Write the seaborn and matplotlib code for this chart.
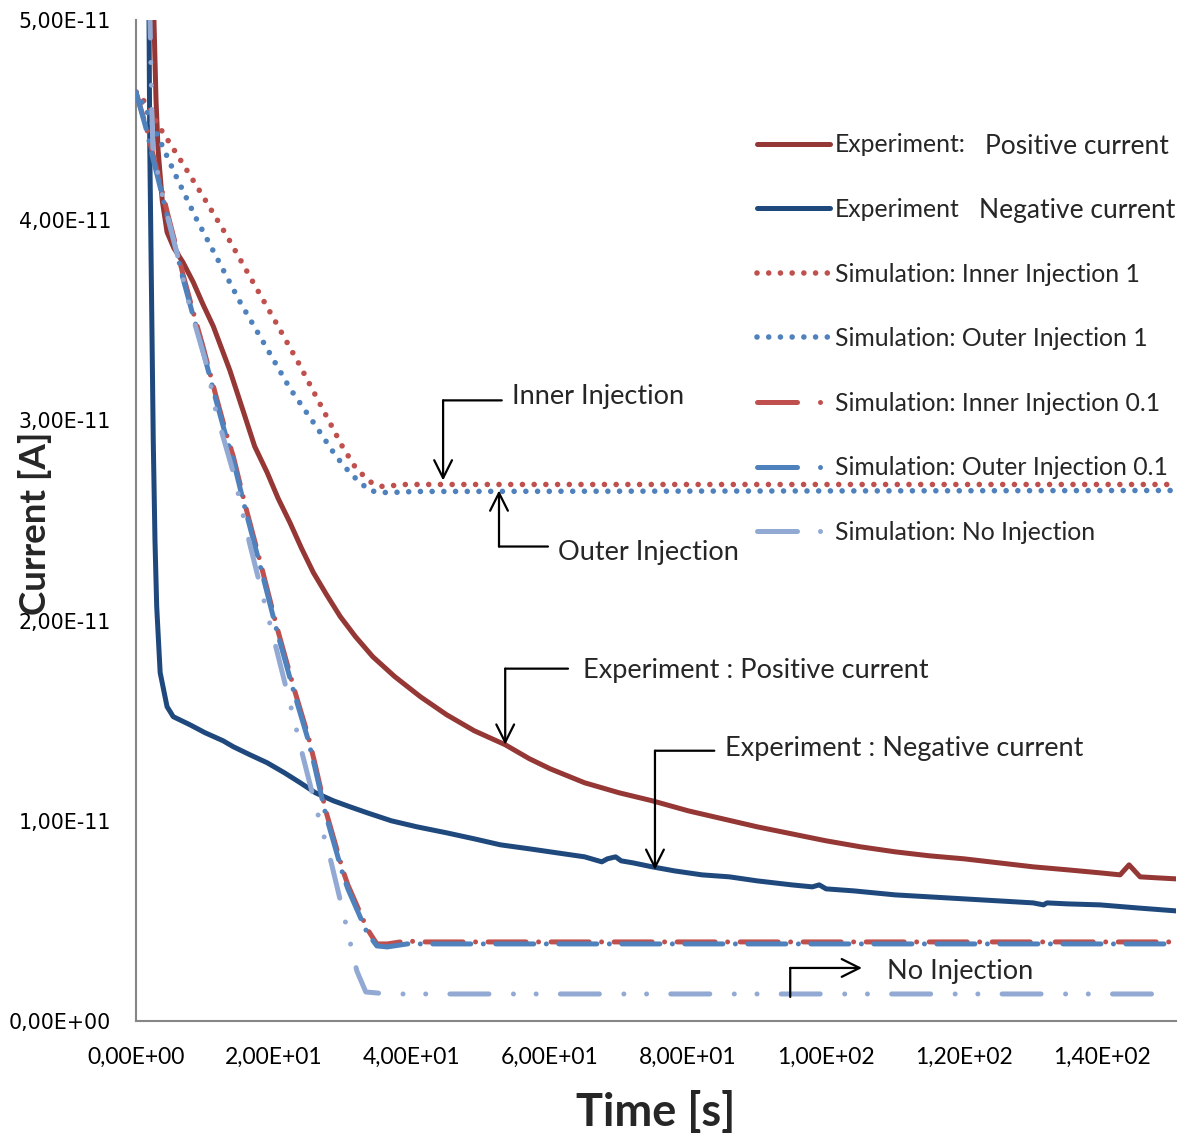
import matplotlib
matplotlib.use("Agg")
import numpy as np
import matplotlib.pyplot as plt
from matplotlib.lines import Line2D
import seaborn as sns
from matplotlib.ticker import FixedLocator, FuncFormatter

# ---- measured currents, in units of 1e-11 A, versus time in s ----
T_EXP_POS = [2.3, 2.6, 2.9, 3.2, 3.8, 4.5, 5.5, 6.8, 8.3, 9.7, 11.2, 12.4, 13.6, 15.5, 17.2,
             19.0, 20.6, 22.3, 24.0, 25.7, 27.6, 29.6, 31.8, 34.3, 37.5, 41.2, 45, 49, 53.5,
             57, 60, 65, 70, 74.8, 80, 85, 90, 95, 100, 105, 110, 115, 120, 125, 130, 135,
             139.7, 142.6, 143.9, 145.5, 148, 150.7]
I_EXP_POS = [6.5, 5.0, 4.60, 4.35, 4.10, 3.94, 3.86, 3.79, 3.69, 3.58, 3.47, 3.36, 3.25, 3.05,
             2.87, 2.74, 2.61, 2.49, 2.36, 2.24, 2.13, 2.02, 1.92, 1.82, 1.72, 1.62, 1.53, 1.45,
             1.38, 1.31, 1.26, 1.19, 1.14, 1.10, 1.05, 1.01, 0.97, 0.935, 0.90, 0.87, 0.845,
             0.825, 0.81, 0.79, 0.77, 0.755, 0.74, 0.73, 0.78, 0.72, 0.715, 0.71]

T_EXP_NEG = [1.8, 1.85, 2.0, 2.5, 2.75, 3.0, 3.5, 4.5, 5.4, 7.8, 10, 12.6, 14.1, 16.5, 19.0,
             21.5, 23.8, 26, 28.6, 31, 33.5, 37, 40.7, 45, 49, 52.8, 57, 61, 65, 67.5, 68.3,
             69.5, 70.3, 72, 74.8, 78, 82, 86, 90, 95, 98, 99, 100, 104, 110, 115, 120, 125,
             130, 131.5, 132, 135, 139.7, 145, 150.7]
I_EXP_NEG = [6.5, 5.2, 4.35, 2.90, 2.40, 2.07, 1.74, 1.57, 1.52, 1.48, 1.44, 1.40, 1.37, 1.33,
             1.29, 1.24, 1.19, 1.14, 1.10, 1.07, 1.04, 1.00, 0.97, 0.94, 0.91, 0.88, 0.86, 0.84,
             0.82, 0.795, 0.81, 0.82, 0.80, 0.79, 0.77, 0.75, 0.73, 0.72, 0.70, 0.68, 0.67, 0.68,
             0.66, 0.65, 0.63, 0.62, 0.61, 0.60, 0.59, 0.58, 0.59, 0.585, 0.58, 0.565, 0.55]

# ---- simulations ----
T_INNER_1 = [0, 0.7, 1.6, 3.3, 6.1, 9.7, 13.2, 16.8, 20.1, 23.5, 26.7, 29.9, 31.7, 32.8, 34.1,
             35.7, 39.1, 150.7]
I_INNER_1 = [4.64, 4.62, 4.57, 4.47, 4.32, 4.12, 3.92, 3.70, 3.50, 3.29, 3.08, 2.87, 2.77, 2.73,
             2.69, 2.67, 2.68, 2.68]

T_OUTER_1 = [0, 1.5, 2.9, 5.8, 8.7, 11.9, 15.1, 18.8, 22.3, 26.1, 29.0, 31.2, 33.8, 35.4, 37.1,
             40.4, 150.7]
I_OUTER_1 = [4.64, 4.55, 4.44, 4.22, 4.01, 3.80, 3.59, 3.37, 3.16, 2.97, 2.82, 2.73, 2.65, 2.64,
             2.64, 2.645, 2.65]

T_INJ_01 = [0, 1.6, 2.3, 3.9, 4.6, 6.1, 6.8, 8.3, 9.7, 11.6, 13.2, 14.1, 15.8, 18.1, 20.4, 22.9,
            24.9, 25.9, 27.5, 30.0, 30.7, 33.5, 34.9, 36.4, 39.3, 41.2, 150.7]
I_INNER_01 = [4.64, 4.45, 4.35, 4.13, 4.03, 3.83, 3.73, 3.54, 3.37, 3.12, 2.92, 2.82, 2.58, 2.28,
              1.97, 1.66, 1.43, 1.29, 1.05, 0.75, 0.68, 0.46, 0.385, 0.385, 0.40, 0.395, 0.395]
I_OUTER_01 = [4.64, 4.44, 4.33, 4.11, 4.01, 3.81, 3.71, 3.52, 3.35, 3.10, 2.90, 2.80, 2.56, 2.26,
              1.95, 1.64, 1.41, 1.27, 1.03, 0.73, 0.66, 0.44, 0.375, 0.37, 0.385, 0.385, 0.385]

T_NO_INJ = [1.9, 2.03, 2.3, 2.46, 3.2, 3.9, 6.2, 7.7, 10.3, 11.6, 14.1, 16.5, 18.1, 20.4, 22.8,
            24.2, 25.9, 28.3, 29.9, 32.0, 33.3, 36.5, 150.7]
I_NO_INJ = [6.5, 5.0, 4.54, 4.34, 4.23, 4.11, 3.80, 3.58, 3.27, 3.04, 2.74, 2.38, 2.16, 1.85,
            1.52, 1.32, 1.09, 0.79, 0.56, 0.25, 0.145, 0.135, 0.135]

SCALE = 1e-11
X_TICKS = [0, 20, 40, 60, 80, 100, 120, 140]
Y_TICKS = [0, 1e-11, 2e-11, 3e-11, 4e-11, 5e-11]

LEGEND_LABELS = ["Experiment:", "Experiment",
                 "Simulation: Inner Injection 1", "Simulation: Outer Injection 1",
                 "Simulation: Inner Injection 0.1", "Simulation: Outer Injection 0.1",
                 "Simulation: No Injection"]
LEGEND_EXTRA = ["Positive current", "Negative current"]

# colours
C_EXP_POS = "#953735"
C_EXP_NEG = "#1F497D"
C_RED = "#C0504D"
C_BLUE = "#4F81BD"
C_LIGHT = "#91A9D3"

sns.set_theme(style="white")
plt.rcParams["font.family"] = ["Lato", "DejaVu Sans"]
plt.rcParams["lines.scale_dashes"] = False
plt.rcParams["lines.dash_capstyle"] = "round"
plt.rcParams["lines.solid_capstyle"] = "round"
plt.rcParams["lines.solid_joinstyle"] = "round"
plt.rcParams["lines.dash_joinstyle"] = "round"

W, H = 1195, 1133
fig = plt.figure(figsize=(W / 100, H / 100), dpi=100)
ax = fig.add_axes([136 / W, 1 - 1021 / H, (1176 - 136) / W, (1021 - 20) / H])


def pt(px):
    return px * 72 / 100


LW = pt(5)
LW_DOT = pt(5.6)
dotted = (0, (0.01, pt(11.7)))
dash_dot = (0, (pt(38), pt(12.5), 0.01, pt(12.5)))
dash_dot_red = (pt(10), (pt(38), pt(12.5), 0.01, pt(12.5)))
dash_dot_dot = (0, (pt(39), pt(24.5), 0.01, pt(22.7), 0.01, pt(24.2)))
legend_dash_dot = (0, (pt(40), pt(23), 0.01, pt(60)))

series = [
    (T_EXP_POS, I_EXP_POS, C_EXP_POS, "-", LW, LEGEND_LABELS[0]),
    (T_EXP_NEG, I_EXP_NEG, C_EXP_NEG, "-", LW, LEGEND_LABELS[1]),
    (T_INNER_1, I_INNER_1, C_RED, dotted, LW_DOT, LEGEND_LABELS[2]),
    (T_OUTER_1, I_OUTER_1, C_BLUE, dotted, LW_DOT, LEGEND_LABELS[3]),
    (T_INJ_01, I_INNER_01, C_RED, dash_dot_red, LW, LEGEND_LABELS[4]),
    (T_INJ_01, I_OUTER_01, C_BLUE, dash_dot, LW, LEGEND_LABELS[5]),
    (T_NO_INJ, I_NO_INJ, C_LIGHT, dash_dot_dot, LW, LEGEND_LABELS[6]),
]
for k, (t, i, col, ls, lw, lab) in enumerate(series):
    sns.lineplot(x=np.asarray(t), y=np.asarray(i) * SCALE, ax=ax, color=col, lw=lw,
                 linestyle=ls, label=lab, estimator=None, sort=False, zorder=2 + k)

ax.set_xlim(0, 150.7)
ax.set_ylim(0, 5e-11)

# axes frame: only left and bottom, grey
for side in ("top", "right"):
    ax.spines[side].set_visible(False)
for side in ("left", "bottom"):
    ax.spines[side].set_color("#868686")
    ax.spines[side].set_linewidth(1.5)

fmt = FuncFormatter(lambda v, _: f"{v:.2E}".replace(".", ","))
ax.xaxis.set_major_locator(FixedLocator(X_TICKS))
ax.yaxis.set_major_locator(FixedLocator(Y_TICKS))
ax.xaxis.set_major_formatter(fmt)
ax.yaxis.set_major_formatter(fmt)
ax.tick_params(axis="x", direction="out", length=pt(8), width=1.5, color="#868686",
               pad=13, labelsize=16.5, labelcolor="black")
ax.tick_params(axis="y", direction="out", length=pt(7), width=1.5, color="#868686",
               pad=13, labelsize=14.8, labelcolor="black")
for lab in ax.get_yticklabels():
    lab.set_fontfamily("DejaVu Sans")

ax.set_xlabel("Time [s]", fontsize=32.5, fontweight="bold")
ax.xaxis.set_label_coords(0.5, (1021 - 1091) / 1001)
ax.set_ylabel("Current [A]", fontsize=26.5, fontweight="bold")
ax.yaxis.set_label_coords((52 - 136) / 1040, (1021 - 523) / 1001)

# legend: dash-dot samples drawn as "dash, gap, dot"
handles, labels = ax.get_legend_handles_labels()
for j in (4, 5, 6):
    h = handles[j]
    handles[j] = Line2D([], [], color=h.get_color(), lw=h.get_linewidth(),
                        linestyle=legend_dash_dot)
fs = 17.8
fs_px = fs * 100 / 72
leg = ax.legend(handles, labels, loc="upper left",
                bbox_to_anchor=(757 / W, 1 - 133.5 / H), bbox_transform=fig.transFigure,
                frameon=False, fontsize=fs, handlelength=73 / fs_px,
                handletextpad=5 / fs_px, labelspacing=1.68, borderaxespad=0, borderpad=0)

fig.canvas.draw()
for txt, extra in zip(leg.get_texts()[:2], LEGEND_EXTRA):
    bb = txt.get_window_extent()
    fig.text((bb.x1 + 19) / W, (bb.y0 + bb.y1) / 2 / H - 0.001, extra,
             fontsize=19, va="center", ha="left")


# call-out arrows with elbow leaders
def callout(elbow, tip, bar_end, text_xy, text):
    ax.annotate("", xy=tip, xytext=elbow,
                arrowprops=dict(arrowstyle="->", lw=1.6, color="black",
                                mutation_scale=32, shrinkA=0, shrinkB=0), zorder=20)
    ax.annotate("", xy=bar_end, xytext=elbow,
                arrowprops=dict(arrowstyle="-", lw=1.6, color="black",
                                shrinkA=0, shrinkB=0), zorder=20)
    ax.text(text_xy[0], text_xy[1], text, fontsize=19.5, va="center", ha="left", zorder=20)


callout((44.5, 3.10e-11), (44.5, 2.70e-11), (53.0, 3.10e-11), (54.5, 3.12e-11), "Inner Injection")
callout((52.6, 2.37e-11), (52.6, 2.65e-11), (59.7, 2.37e-11), (61.2, 2.34e-11), "Outer Injection")
callout((53.5, 1.76e-11), (53.5, 1.38e-11), (62.6, 1.76e-11), (64.8, 1.75e-11),
        "Experiment : Positive current")
callout((75.2, 1.35e-11), (75.2, 0.755e-11), (83.8, 1.35e-11), (85.4, 1.36e-11),
        "Experiment : Negative current")
callout((94.8, 0.265e-11), (105.2, 0.265e-11), (94.8, 0.12e-11), (108.8, 0.245e-11),
        "No Injection")

fig.savefig("out.png", dpi=100)
